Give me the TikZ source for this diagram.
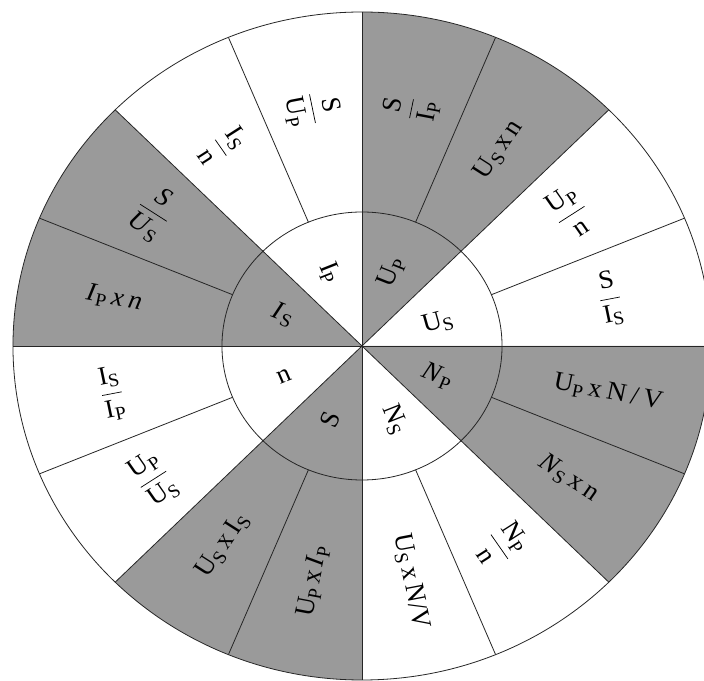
\documentclass[tikz,border=0pt]{standalone}
\usepackage{fontspec}
\setmainfont{Liberation Serif}
\definecolor{sect}{RGB}{154,154,154}
\newcommand\sbx[1]{\raisebox{-0.16em}{\scalebox{0.72}{#1}}}
\newcommand\fr[2]{$\displaystyle{\hbox{#1}\above 0.7pt\hbox{#2}}$}
\newcommand\gap{\hspace{0.18em}}
\tikzset{
  lbl/.style={transform shape, inner sep=0pt, font=\fontsize{26}{30}\selectfont},
  sline/.style={line width=0.8pt, draw=black!85},
  wedge/.style={fill=sect}
}
\begin{document}
\begin{tikzpicture}[x=1pt,y=1pt]
\useasboundingbox (0,0) rectangle (704,680);
\clip (0,0) rectangle (704,680);
\fill[white] (0,0) rectangle (704,680);
\begin{scope}[shift={(362,334)}, xscale=1.045]
  \def\R{334}
  \def\r{134}
  % grey wedges
  \foreach \a in {45,135,225,315}
    \fill[wedge] (0,0) -- (\a:\R) arc[start angle=\a, end angle=\a+45, radius=\R] -- cycle;
  % full radial lines
  \foreach \a in {0,45,...,315}
    \draw[sline] (0,0) -- (\a:\R);
  % outer ring radial lines
  \foreach \a in {22.5,67.5,...,337.5}
    \draw[sline] (\a:\r) -- (\a:\R);
  \draw[sline] (0,0) circle[radius=\r];
  \draw[sline] (0,0) circle[radius=\R];

  % outer labels
  \node[lbl, rotate=78.75]  (o1)  at (78.75:242)  {\fr{S}{I\sbx{P}}};
  \node[lbl, rotate=56.25]  (o2)  at (56.25:236)  {U\sbx{S}\gap x\gap n};
  \node[lbl, rotate=33.75]  (o3)  at (33.75:240)  {\fr{U\sbx{P}}{n}};
  \node[lbl, rotate=11.25]  (o4)  at (11.25:242)  {\fr{S}{I\sbx{S}}};
  \node[lbl, rotate=-11.25] (o5)  at (-11.25:240) {U\sbx{P}\gap x\gap N\gap/\gap V};
  \node[lbl, rotate=-33.75] (o6)  at (-33.75:238) {\textit{N}\sbx{S}\gap x\gap n};
  \node[lbl, rotate=-56.25] (o7)  at (-56.25:240) {\fr{N\sbx{P}}{n}};
  \node[lbl, rotate=-78.75] (o8)  at (-78.75:240) {U\sbx{S}\gap x\gap N/V};
  \node[lbl, rotate=78.75]  (o9)  at (-101.25:240) {U\sbx{P}\gap x\gap \textit{I}\sbx{P}};
  \node[lbl, rotate=56.25]  (o10) at (-123.75:240) {U\sbx{S}\gap x\gap I\sbx{S}};
  \node[lbl, rotate=33.75]  (o11) at (-146.25:240) {\fr{U\sbx{P}}{U\sbx{S}}};
  \node[lbl, rotate=11.25]  (o12) at (-168.75:244) {\fr{I\sbx{S}}{I\sbx{P}}};
  \node[lbl, rotate=-11.25] (o13) at (168.75:242) {\textit{I}\sbx{P}\gap\textit{x}\gap\textit{n}};
  \node[lbl, rotate=-33.75] (o14) at (146.25:240) {\fr{\textit{S}}{\textit{U}\sbx{S}}};
  \node[lbl, rotate=-56.25] (o15) at (123.75:240) {\fr{I\sbx{S}}{n}};
  \node[lbl, rotate=-78.75] (o16) at (101.25:242) {\fr{S}{U\sbx{P}}};

  % inner labels
  \node[lbl, rotate=15]    (i1) at (18:76)    {U\sbx{S}};
  \node[lbl, rotate=67.5]  (i2) at (69:79)    {U\sbx{P}};
  \node[lbl, rotate=-67.5] (i3) at (113:80)   {I\sbx{P}};
  \node[lbl, rotate=-22.5] (i4) at (157.5:82) {\textit{I}\sbx{S}};
  \node[lbl, rotate=22.5]  (i5) at (202.5:80) {n};
  \node[lbl, rotate=67.5]  (i6) at (247.5:80) {S};
  \node[lbl, rotate=-67.5] (i7) at (292.5:80) {N\sbx{S}};
  \node[lbl, rotate=-22.5] (i8) at (337.5:78) {\textit{N}\sbx{P}};
\end{scope}
\end{tikzpicture}
\end{document}
